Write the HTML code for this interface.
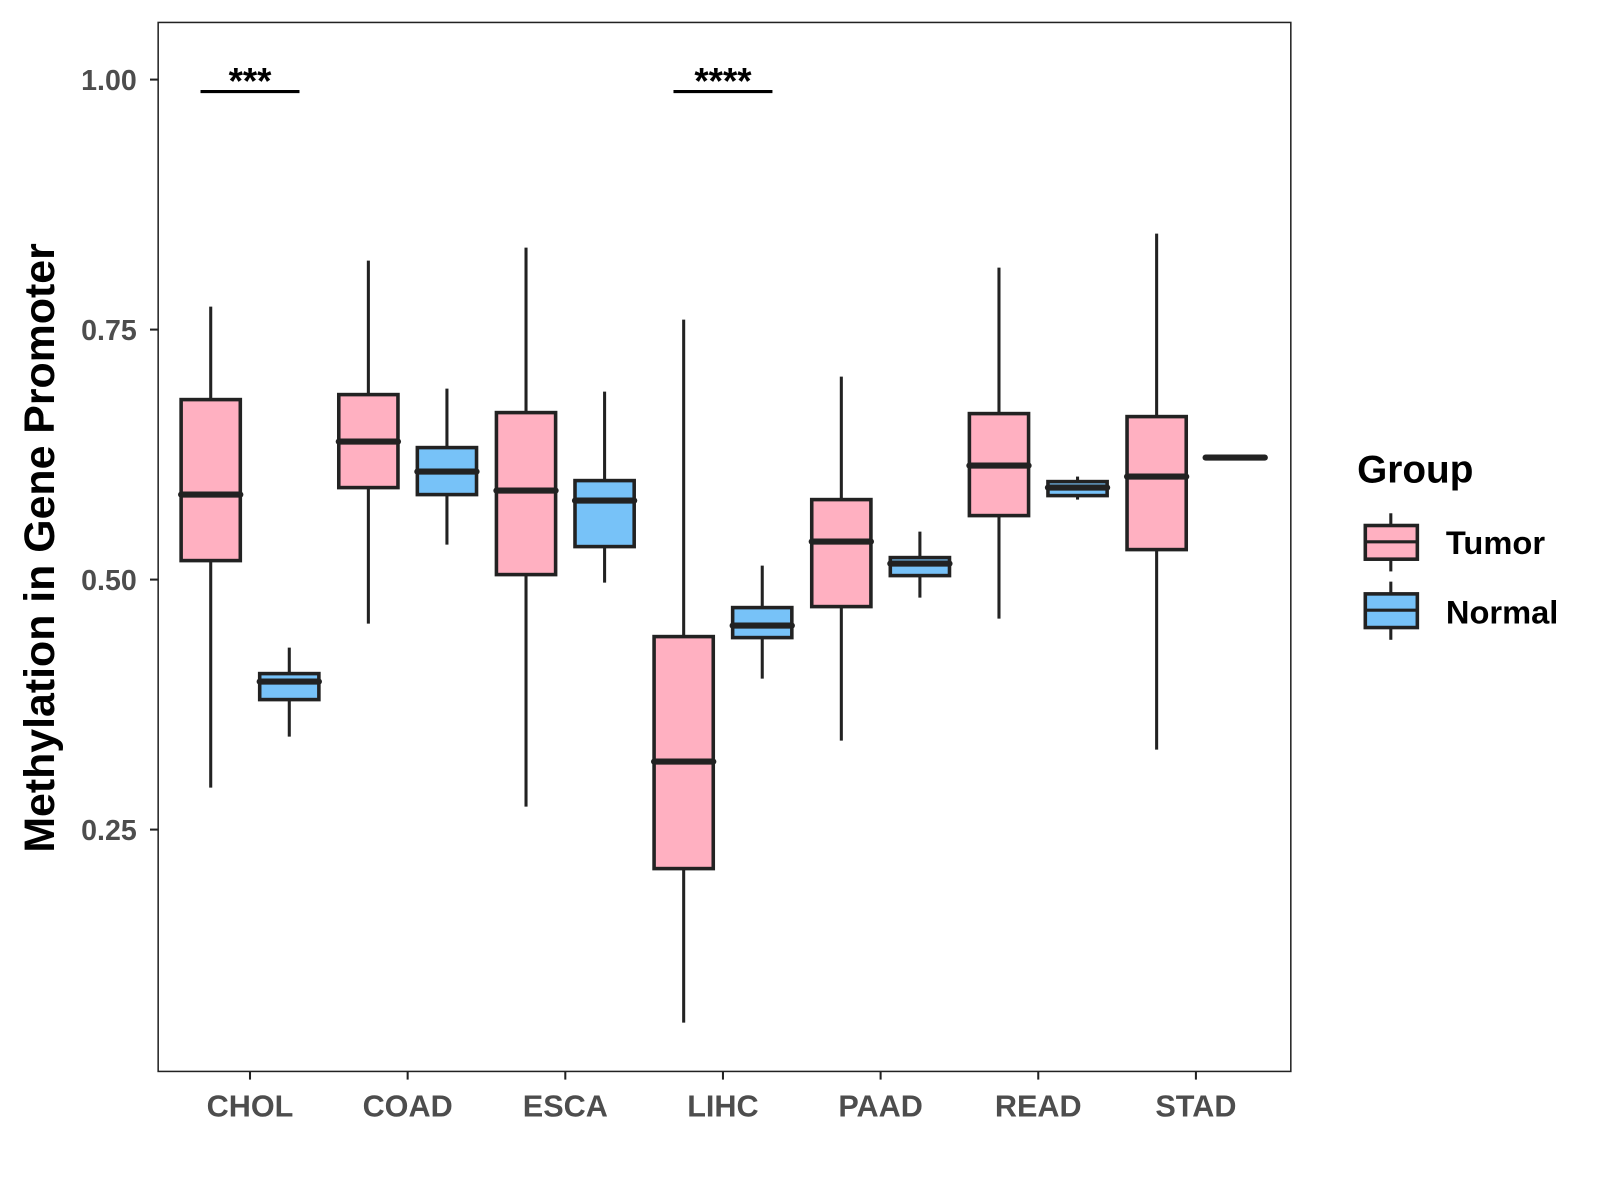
<!DOCTYPE html>
<html><head><meta charset="utf-8"><style>
html,body{margin:0;padding:0;background:#fff}
svg{display:block}
text{font-family:"Liberation Sans",Arial,sans-serif;font-weight:bold}
</style></head><body>
<svg id="chart" width="1600" height="1200" viewBox="0 0 1568 1176" xmlns="http://www.w3.org/2000/svg">
<rect x="0" y="0" width="1568" height="1176" fill="#fff"/>
<rect x="155" y="22" width="1110" height="1028" fill="none" stroke="#222" stroke-width="1.5"/>
<g id="yaxis"></g>
<g id="xaxis"></g>
<g id="boxes"></g>
<g id="sig"></g>
<text transform="translate(53,537) rotate(-90)" text-anchor="middle" font-size="42" fill="#000">Methylation in Gene Promoter</text>
<g>
<text x="1330" y="473" font-size="38" fill="#000">Group</text>
<g>
<line x1="1363" y1="503" x2="1363" y2="560" stroke="#222" stroke-width="3"/>
<rect x="1338" y="515" width="51" height="33" fill="#FFB0C1" stroke="#222" stroke-width="3.5"/>
<line x1="1338" y1="531" x2="1389" y2="531" stroke="#222" stroke-width="3"/>
<text x="1417" y="543" font-size="32" fill="#000">Tumor</text>
</g>
<g>
<line x1="1363" y1="570" x2="1363" y2="627" stroke="#222" stroke-width="3"/>
<rect x="1338" y="582" width="51" height="33" fill="#77C2F8" stroke="#222" stroke-width="3.5"/>
<line x1="1338" y1="598" x2="1389" y2="598" stroke="#222" stroke-width="3"/>
<text x="1417" y="611" font-size="32" fill="#000">Normal</text>
</g>
</g>
<script>
const categories = ["CHOL","COAD","ESCA","LIHC","PAAD","READ","STAD"];
const yTicks = [0.25,0.5,0.75,1.0];
const yTickLabels = ["0.25","0.50","0.75","1.00"];
// [lower whisker, q1, median, q3, upper whisker]
const tumor = [
 [0.292,0.519,0.585,0.680,0.773],
 [0.456,0.592,0.638,0.685,0.819],
 [0.273,0.505,0.589,0.667,0.832],
 [0.057,0.211,0.318,0.443,0.760],
 [0.339,0.473,0.538,0.580,0.703],
 [0.461,0.564,0.614,0.666,0.812],
 [0.330,0.530,0.603,0.663,0.846]
];
const normal = [
 [0.343,0.380,0.398,0.406,0.432],
 [0.535,0.585,0.608,0.632,0.691],
 [0.497,0.533,0.579,0.599,0.688],
 [0.401,0.442,0.454,0.472,0.514],
 [0.482,0.504,0.516,0.522,0.548],
 [0.580,0.584,0.592,0.598,0.603],
 [0.622,0.622,0.622,0.622,0.622]
];
const sigCategories = ["CHOL","LIHC"];
const sigLabels = ["***","****"];
const sigLevel = 0.988;

const NS="http://www.w3.org/2000/svg";
const yS = v => 78 + (1 - v) * 980;
const xS = i => 245 + i * 154.5;
function mk(tag, attrs, parent){const e=document.createElementNS(NS,tag);for(const k in attrs)e.setAttribute(k,attrs[k]);parent.appendChild(e);return e;}
const ya=document.getElementById('yaxis'), xa=document.getElementById('xaxis'), bx=document.getElementById('boxes'), sg=document.getElementById('sig');
yTicks.forEach((t,i)=>{
  const y=yS(t);
  const l=mk('line',{x1:147,x2:155,y1:y,y2:y,stroke:'#222','stroke-width':2},ya);
  
  
  const tx=mk('text',{x:134,y:y+10,'text-anchor':'end','font-size':28,fill:'#4d4d4d'},ya);
  tx.textContent=yTickLabels[i];
  
  
});
categories.forEach((c,i)=>{
  const x=xS(i);
  const l=mk('line',{x1:x,x2:x,y1:1050,y2:1058,stroke:'#222','stroke-width':2},xa);
  
  
  const tx=mk('text',{x:x,y:1094,'text-anchor':'middle','font-size':30,fill:'#4d4d4d'},xa);
  tx.textContent=c;
  
  
});
function drawBox(cx, d, fill, name){
  const g=mk('g',{},bx);
  
  
  const w=58;
  mk('line',{x1:cx,x2:cx,y1:yS(d[4]),y2:yS(d[0]),stroke:'#222','stroke-width':3},g);
  const h=Math.max(yS(d[1])-yS(d[3]),0.1);
  mk('rect',{x:cx-w/2,y:yS(d[3]),width:w,height:h,fill:fill,stroke:'#222','stroke-width':3.5},g);
  mk('line',{x1:cx-w/2,x2:cx+w/2,y1:yS(d[2]),y2:yS(d[2]),stroke:'#222','stroke-width':6,'stroke-linecap':'round'},g);
}
categories.forEach((c,i)=>{
  drawBox(xS(i)-38.5, tumor[i], '#FFB0C1', 'box-tumor-'+c.toLowerCase());
  drawBox(xS(i)+38.5, normal[i], '#77C2F8', 'box-normal-'+c.toLowerCase());
});
sigCategories.forEach((c,k)=>{
  const i=categories.indexOf(c), x=xS(i), y=yS(sigLevel);
  const l=mk('line',{x1:x-48.5,x2:x+48.5,y1:y,y2:y,stroke:'#000','stroke-width':3},sg);
  
  
  const t=mk('text',{x:x,y:y+2,'text-anchor':'middle','font-size':36,fill:'#000'},sg);
  t.textContent=sigLabels[k];
  
  
});
</script>
</svg>
</body></html>
